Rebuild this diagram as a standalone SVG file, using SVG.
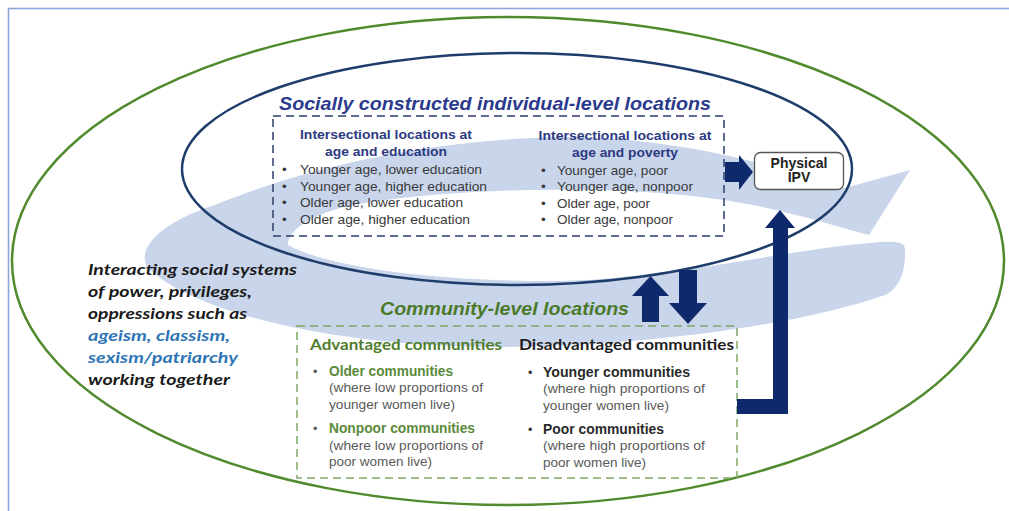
<svg xmlns="http://www.w3.org/2000/svg" width="1009" height="511" viewBox="0 0 1009 511">
  <style>
    .sans { font-family: "Liberation Sans", Arial, sans-serif; }
    .head { font-family: "Liberation Sans", Arial, sans-serif; font-weight: bold; font-size: 13.5px; fill: #2d3a82; }
    .item { font-family: "Liberation Sans", Arial, sans-serif; font-size: 13.5px; fill: #3a3a3a; }
    .cname { font-family: "Liberation Sans", Arial, sans-serif; font-weight: bold; font-size: 14px; }
    .cnote { font-family: "Liberation Sans", Arial, sans-serif; font-size: 12.5px; fill: #5a5a5a; }
    .lvl { font-family: "Liberation Sans", Arial, sans-serif; font-weight: bold; font-style: italic; font-size: 19px; }
    .sys { font-family: Lato, "Open Sans", sans-serif; font-weight: bold; font-style: italic; font-size: 16px; fill: #1a1a1a; }
    .arrow { fill: #0f2a6c; }
  </style>

  <rect width="1009" height="511" fill="#ffffff"/>

  <!-- page frame -->
  <rect id="frame" x="8.5" y="8.5" width="1010" height="510" fill="none" stroke="#8aa6d6" stroke-width="1.6"/>

  <!-- pale circular swoosh behind everything -->
  <path id="swoosh" fill="#c8d5ea"
        d="M 910 170 L 869 235
           C 820 222, 760 200, 660 193
           C 560 186, 420 190, 340 208
           C 305 218, 288 232, 288 245
           C 330 268, 440 282, 560 281
           C 680 278, 780 250, 880 242
           C 900 241, 905 243, 905 250
           C 906 270, 900 288, 885 295
           C 820 318, 680 345, 505 347
           C 330 348, 190 310, 148 268
           C 135 250, 160 222, 215 205
           C 300 170, 420 140, 560 137
           C 660 136, 760 160, 845 188 Z"/>

  <!-- outer context: social systems -->
  <g id="social-systems">
    <ellipse cx="508" cy="261" rx="496" ry="244" fill="none" stroke="#4f8a2c" stroke-width="2.5"/>
    <text class="sys" x="88" y="275" textLength="209" lengthAdjust="spacingAndGlyphs">Interacting social systems</text>
    <text class="sys" x="88" y="297" textLength="164" lengthAdjust="spacingAndGlyphs">of power, privileges,</text>
    <text class="sys" x="88" y="319" textLength="159" lengthAdjust="spacingAndGlyphs">oppressions such as</text>
    <text class="sys" x="88" y="341" textLength="142" lengthAdjust="spacingAndGlyphs" style="fill:#2e75b6">ageism, classism,</text>
    <text class="sys" x="88" y="363" textLength="150" lengthAdjust="spacingAndGlyphs" style="fill:#2e75b6">sexism/patriarchy</text>
    <text class="sys" x="88" y="385" textLength="142" lengthAdjust="spacingAndGlyphs">working together</text>
  </g>

  <!-- individual-level locations -->
  <g id="individual-level">
    <ellipse cx="517" cy="169" rx="335" ry="116" fill="none" stroke="#1f3d6b" stroke-width="2.5"/>
    <text class="lvl" x="279" y="110" textLength="432" lengthAdjust="spacingAndGlyphs" fill="#2b3a8c">Socially constructed individual-level locations</text>
    <rect x="273" y="116" width="451" height="120" fill="none" stroke="#2c3e6a" stroke-width="1.5" stroke-dasharray="8 5"/>

    <text class="head" x="386" y="139" text-anchor="middle" textLength="172" lengthAdjust="spacingAndGlyphs">Intersectional locations at</text>
    <text class="head" x="386" y="156" text-anchor="middle" textLength="122" lengthAdjust="spacingAndGlyphs">age and education</text>
    <g class="item">
      <text x="282" y="174">•</text>
      <text x="300" y="174" textLength="182" lengthAdjust="spacingAndGlyphs">Younger age, lower education</text>
      <text x="282" y="191">•</text>
      <text x="300" y="191" textLength="187" lengthAdjust="spacingAndGlyphs">Younger age, higher education</text>
      <text x="282" y="207">•</text>
      <text x="300" y="207" textLength="163" lengthAdjust="spacingAndGlyphs">Older age, lower education</text>
      <text x="282" y="224">•</text>
      <text x="300" y="224" textLength="170" lengthAdjust="spacingAndGlyphs">Older age, higher education</text>
    </g>

    <text class="head" x="625" y="140" text-anchor="middle" textLength="173" lengthAdjust="spacingAndGlyphs">Intersectional locations at</text>
    <text class="head" x="625" y="157" text-anchor="middle" textLength="106" lengthAdjust="spacingAndGlyphs">age and poverty</text>
    <g class="item">
      <text x="541" y="175">•</text>
      <text x="557" y="175" textLength="111" lengthAdjust="spacingAndGlyphs">Younger age, poor</text>
      <text x="541" y="191">•</text>
      <text x="557" y="191" textLength="136" lengthAdjust="spacingAndGlyphs">Younger age, nonpoor</text>
      <text x="541" y="208">•</text>
      <text x="557" y="208" textLength="93" lengthAdjust="spacingAndGlyphs">Older age, poor</text>
      <text x="541" y="224">•</text>
      <text x="557" y="224" textLength="116" lengthAdjust="spacingAndGlyphs">Older age, nonpoor</text>
    </g>
  </g>

  <!-- outcome -->
  <g id="physical-ipv">
    <rect x="754.5" y="152.5" width="89" height="37" rx="6" fill="#ffffff" stroke="#555555" stroke-width="1.3"/>
    <text class="sans" x="799" y="168" text-anchor="middle" font-weight="bold" font-size="14" fill="#222222">Physical</text>
    <text class="sans" x="799" y="182" text-anchor="middle" font-weight="bold" font-size="14" fill="#222222">IPV</text>
  </g>

  <!-- community-level locations -->
  <g id="community-level">
    <text class="lvl" x="380" y="315" textLength="249" lengthAdjust="spacingAndGlyphs" fill="#4b7a29">Community-level locations</text>
    <rect x="297" y="326" width="440" height="152" fill="none" stroke="#7fa667" stroke-width="1.5" stroke-dasharray="8 5"/>

    <text x="310" y="350" font-family="Lato, 'Open Sans', sans-serif" font-weight="bold" font-size="15" fill="#4f7d2e" textLength="192" lengthAdjust="spacingAndGlyphs">Advantaged communities</text>
    <text class="cnote" x="313" y="376">•</text>
    <text class="cname" x="329" y="376" fill="#5b8a3a" textLength="124" lengthAdjust="spacingAndGlyphs">Older communities</text>
    <text class="cnote" x="329" y="392" textLength="154" lengthAdjust="spacingAndGlyphs">(where low proportions of</text>
    <text class="cnote" x="329" y="409" textLength="126" lengthAdjust="spacingAndGlyphs">younger women live)</text>
    <text class="cnote" x="313" y="433">•</text>
    <text class="cname" x="329" y="433" fill="#5b8a3a" textLength="146" lengthAdjust="spacingAndGlyphs">Nonpoor communities</text>
    <text class="cnote" x="329" y="450" textLength="154" lengthAdjust="spacingAndGlyphs">(where low proportions of</text>
    <text class="cnote" x="329" y="466" textLength="103" lengthAdjust="spacingAndGlyphs">poor women live)</text>

    <text x="519" y="350" font-family="Lato, 'Open Sans', sans-serif" font-weight="bold" font-size="15" fill="#1e1e1e" textLength="215" lengthAdjust="spacingAndGlyphs">Disadvantaged communities</text>
    <text class="cnote" x="528" y="377" style="fill:#333">•</text>
    <text class="cname" x="543" y="377" fill="#2a2a2a" textLength="147" lengthAdjust="spacingAndGlyphs">Younger communities</text>
    <text class="cnote" x="543" y="393" textLength="162" lengthAdjust="spacingAndGlyphs">(where high proportions of</text>
    <text class="cnote" x="543" y="410" textLength="126" lengthAdjust="spacingAndGlyphs">younger women live)</text>
    <text class="cnote" x="528" y="434" style="fill:#333">•</text>
    <text class="cname" x="543" y="434" fill="#2a2a2a" textLength="121" lengthAdjust="spacingAndGlyphs">Poor communities</text>
    <text class="cnote" x="543" y="450" textLength="162" lengthAdjust="spacingAndGlyphs">(where high proportions of</text>
    <text class="cnote" x="543" y="467" textLength="103" lengthAdjust="spacingAndGlyphs">poor women live)</text>
  </g>

  <!-- block arrows between levels and to the outcome -->
  <g id="connectors">
    <!-- individual-level to Physical IPV -->
    <path class="arrow" d="M 725 162 L 739 162 L 739 155 L 753 172 L 739 190 L 739 182 L 725 182 Z"/>
    <!-- community up to individual -->
    <path class="arrow" d="M 642 322 L 642 296 L 632 296 L 650.5 276 L 669 296 L 659 296 L 659 322 Z"/>
    <!-- individual down to community -->
    <path class="arrow" d="M 679 270 L 697 270 L 697 303 L 707 303 L 688 324 L 669 303 L 679 303 Z"/>
    <!-- community to Physical IPV -->
    <path class="arrow" d="M 737 399 L 773 399 L 773 228 L 765 228 L 780 210 L 795 228 L 788 228 L 788 414 L 737 414 Z"/>
  </g>
</svg>
